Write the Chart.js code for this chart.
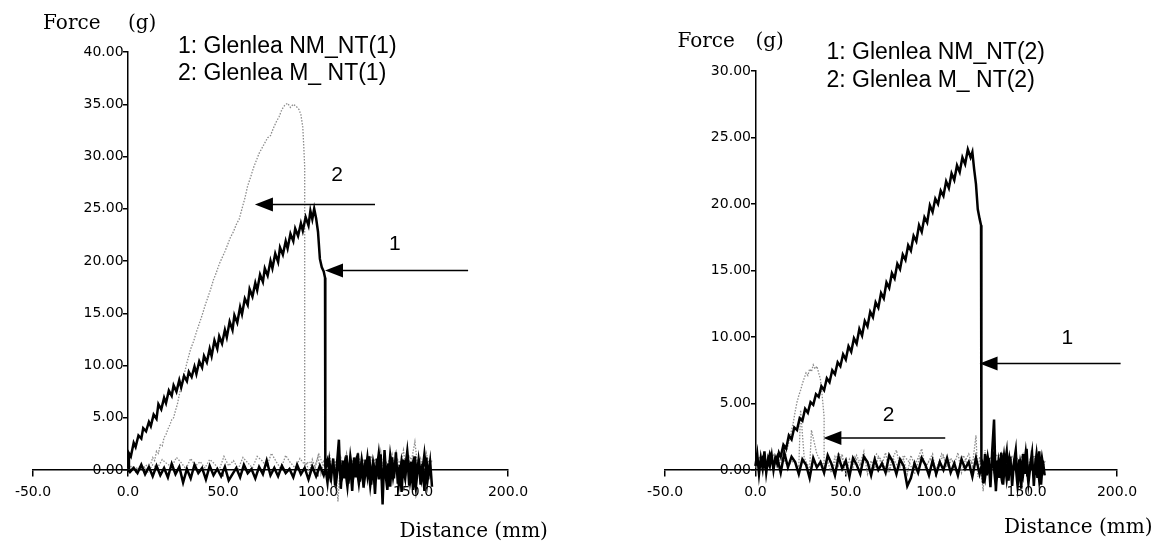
<!DOCTYPE html>
<html>
<head>
<meta charset="utf-8">
<script src="https://cdn.jsdelivr.net/npm/chart.js@4"></script>
<style>
  body { margin: 0; background: #fff; }
  canvas { position: absolute; top: 0; }
  #left { left: 0; }
  #right { left: 583px; }
</style>
</head>
<body>
<canvas id="left" width="583" height="549"></canvas>
<canvas id="right" width="583" height="549"></canvas>
<script>
// distance (mm), force (g) pairs, in the order the probe travelled
var leftNm = [
  [0,0.2],[0.5,1.6],[1.5,1.3],[3,2.6],[4,2.2],[5.5,3.3],[7,3.0],[8,4.0],[9.5,3.7],[11,4.6],[12,4.2],[13.5,5.3],[15,4.9],
  [16,6.3],[17.5,5.8],[19,6.9],[20,6.4],[21.5,7.6],[23,7.1],[24,8.1],[25.5,7.5],[27,8.6],[28,7.9],[29.5,9.0],[31,8.5],
  [32,9.4],[33.5,8.9],[35,9.9],[36,9.2],[37.5,10.4],[39,9.8],[40,10.9],[41.5,10.3],[43,11.6],[44,10.9],[45.5,12.4],
  [47,11.6],[48,12.8],[49.5,12.1],[51,13.4],[52,12.7],[53.5,14.2],[55,13.4],[56,14.8],[57.5,14.1],[59,15.6],[60,14.9],
  [61.5,16.4],[63,15.8],[64,17.3],[65.5,16.6],[67,17.9],[68,17.2],[69.5,18.7],[71,18.0],[72,19.3],[73.5,18.6],[75,20.0],
  [76,19.3],[77.5,20.7],[79,19.9],[80,21.3],[81.5,20.6],[83,21.9],[84,21.2],[85.5,22.6],[87,21.9],[88,23.1],[89.5,22.4],
  [91,23.6],[92,22.9],[93.5,24.2],[95,23.4],[96,24.8],[97,24.0],[98,25.0],[99,24.1],[100,22.8],[101,20.2],[102,19.4],
  [103,19.0],[103.7,18.4],[103.7,0.5],
  [104,0.3],[105,-1.2],[106,0.8],[107,-0.6],[108,1.1],[109,-1.5],[110,0.6],[111,2.9],[112,-1.8],[113,0.9],[114,-0.8],
  [115,1.4],[116,-1.3],[117,0.5],[118,-2.0],[119,1.2],[120,-0.7],[121,1.6],[122,-1.1],[123,0.4],[124,-1.7],[125,1.0],
  [126,-0.5],[127,1.3],[128,-1.4],[129,0.7],[130,-2.3],[131,1.1],[132,-0.9],[133,1.5],[134,-3.3],[135,1.9],[136,-1.0],
  [137,0.6],[138,-1.6],[139,1.2],[140,-0.8],[141,1.7],[142,-1.3],[143,0.5],[144,-2.1],[145,1.0],[146,-0.6],[147,1.4],
  [148,-1.5],[149,0.8],[150,-1.9],[151,1.3],[152,-0.7],[153,1.1],[154,-1.4],[155,0.6],[156,-2.0],[157,1.2],[158,-0.9],
  [159,0.9],[160,-1.6],
  [159,0.8],[157.5,-1.2],[156,1.5],[154.5,-0.8],[153,1.0],[151.5,-1.7],[150,0.6],[148.5,-1.1],[147,1.8],[145.5,-0.5],
  [144,0.9],[142.5,-1.4],[141,1.1],[139.5,-0.7],[138,1.4],[136.5,-1.9],[135,0.5],[133.5,-1.0],[132,1.6],[130.5,-0.6],
  [129,0.8],[127.5,-1.5],[126,1.2],[124.5,-0.9],[123,1.0],[121.5,-1.3],[120,0.7],[118.5,-0.8],[117,1.3],[115.5,-1.6],
  [114,0.6],[112.5,-0.9],[111,1.0],[109.5,-1.2],[108,0.5],[106.5,-0.7],[105,0.9],[103,-0.5],[101,0.4],[99,-0.6],[97,0.3],
  [95,-0.9],[93,0.2],[91,-0.4],[89,0.5],[87,-0.7],[85,0.1],[83,-0.3],[81,0.4],[79,-0.6],[77,0.2],[75,-0.5],[73,0.9],
  [71,-0.4],[69,0.3],[67,-0.8],[65,0.1],[63,-0.3],[61,0.5],[59,-0.7],[57,0.2],[55,-0.4],[53,-1.0],[51,0.3],[49,-0.6],
  [47,0.1],[45,-0.5],[43,0.4],[41,-0.9],[39,0.2],[37,-0.3],[35,0.5],[33,-0.8],[31,0.1],[29,-1.2],[27,0.3],[25,-0.4],
  [23,0.6],[21,-0.7],[19,0.2],[17,-0.5],[15,0.4],[13,-0.6],[11,0.3],[9,-0.4],[7,0.5],[5,-0.3],[3,0.2],[1,-0.2],[0,0]
];
var leftM = [
  [0,0.1],[2,0.4],[4,-0.2],[6,0.3],[8,0.1],[10,0.5],[12,0.6],[13,1.2],[14,0.9],[15,1.8],[16,1.6],[17,2.4],[18,2.3],
  [19,3.1],[20,3.4],[21,3.9],[22,4.3],[23,4.8],[24,5.0],[25,5.7],[26,6.3],[27,7.2],[28,8.0],[29,8.9],[30,9.5],
  [31.5,10.6],[33,11.6],[34.5,12.3],[36,13.2],[37.5,14.0],[39,14.8],[40.5,15.7],[42,16.5],[43.5,17.3],[45,18.2],
  [46.5,18.9],[48,19.7],[49.5,20.3],[51,20.9],[52.5,21.6],[54,22.3],[55.5,22.8],[57,23.5],[58.5,24.0],[60,25.0],
  [61.5,26.0],[63,27.2],[64.5,28.0],[66,28.9],[67.5,29.6],[69,30.3],[70.5,30.8],[72,31.3],[73.5,31.8],[75,32.0],
  [76.5,32.7],[78,33.3],[79.5,33.8],[81,34.5],[82.5,34.9],[84,35.1],[85.5,34.7],[87,35.0],[88.5,34.8],[90,34.5],
  [91,34.0],[92,32.8],[92.5,31.0],[93,29.0],[93,0.4],
  [94,0.6],[95.5,-0.3],[97,1.0],[98.5,0.2],[100,1.3],[101.5,-0.4],[103,0.8],[104.5,0.1],[106,1.5],[107.5,-0.2],[109,0.9],
  [110.5,-3.0],[112,1.2],[113.5,0.3],[115,1.6],[116.5,-0.5],[118,1.0],[119.5,0.2],[121,1.7],[122.5,-0.3],[124,0.9],
  [125.5,0.4],[127,1.4],[128.5,-0.6],[130,1.1],[131.5,0.1],[133,1.8],[134.5,-0.4],[136,0.7],[137.5,0.3],[139,1.5],
  [140.5,-0.2],[142,1.0],[143.5,0.5],[145,1.9],[146.5,-0.3],[148,0.8],[149.5,1.2],[151,2.7],[152.5,0.2],[154,1.1],
  [155.5,-0.4],[157,1.6],[158.5,0.5],[160,0.9],
  [158,0.3],[155.5,1.0],[153,-0.2],[150.5,0.7],[148,1.3],[145.5,0.1],[143,0.9],[140.5,-0.3],[138,1.1],[135.5,0.4],
  [133,0.8],[130.5,-0.2],[128,1.2],[125.5,0.3],[123,0.7],[120.5,1.4],[118,0.0],[115.5,0.8],[113,0.4],[110.5,1.2],
  [108,-0.1],[105.5,0.9],[103,0.3],[100.5,1.5],[98,0.2],[95.5,0.8],[93,0.5],[90.5,1.1],[88,0.2],[85.5,0.7],[83,1.4],
  [80.5,0.1],[78,0.8],[75.5,1.6],[73,0.3],[70.5,0.9],[68,1.3],[65.5,0.2],[63,0.7],[60.5,1.2],[58,0.1],[55.5,0.9],
  [53,0.4],[50.5,1.3],[48,0.0],[45.5,0.6],[43,1.0],[40.5,0.2],[38,0.8],[35.5,0.4],[33,1.1],[30.5,0.1],[28,0.7],
  [25.5,1.2],[23,0.3],[20.5,0.6],[18,1.0],[15.5,0.2],[13,0.5],[10.5,-0.2],[8,0.4],[5.5,0.1],[3,0.3],[0.5,0]
];
var rightNm = [
  [0,0.3],[1,1.2],[2,-0.3],[3,0.9],[4,0.1],[5,1.4],[6,-0.2],[7,0.8],[8,0.3],[9,1.1],[10,0.0],[11,0.9],[12,0.5],[13,1.3],
  [14,1.0],[15.5,1.9],[17,1.6],[18.5,2.6],[20,2.3],[21.5,3.2],[23,3.0],[24.5,3.9],[26,3.7],[27.5,4.6],[29,4.3],
  [30.5,5.1],[32,4.9],[33.5,5.7],[35,5.5],[36.5,6.3],[38,6.0],[39.5,6.9],[41,6.6],[42.5,7.5],[44,7.2],[45.5,8.1],
  [47,7.8],[48.5,8.7],[50,8.3],[51.5,9.3],[53,8.9],[54.5,9.9],[56,9.5],[57.5,10.6],[59,10.1],[60.5,11.2],[62,10.8],
  [63.5,11.9],[65,11.5],[66.5,12.6],[68,12.2],[69.5,13.3],[71,12.9],[72.5,14.1],[74,13.7],[75.5,14.8],[77,14.4],
  [78.5,15.5],[80,15.1],[81.5,16.2],[83,15.8],[84.5,16.9],[86,16.5],[87.5,17.6],[89,17.2],[90.5,18.4],[92,17.9],
  [93.5,19.0],[95,18.6],[96.5,19.9],[98,19.4],[99.5,20.4],[101,20.0],[102.5,21.0],[104,20.6],[105.5,21.7],[107,21.2],
  [108.5,22.3],[110,21.8],[111.5,22.9],[113,22.4],[114.5,23.5],[116,23.0],[117.5,24.1],[119,23.5],[120,23.9],[121,22.6],
  [122,21.5],[123,19.6],[124,18.9],[124.8,18.4],[125,0.6],
  [126,-1.0],[127,1.2],[128,-0.4],[129,0.9],[130,-1.3],[131,1.5],[132,3.8],[133,-1.6],[134,0.7],[135,-0.6],[136,1.3],
  [137,-1.1],[138,0.5],[139,1.4],[140,-0.8],[141,1.0],[142,-1.2],[143,0.6],[144,1.5],[145,-0.9],[146,0.8],[147,-1.4],
  [148,1.2],[149,-0.3],[150,1.6],[151,-1.0],[152,0.4],[153,1.3],[154,-1.2],[155,0.9],[156,-0.6],[157,1.4],[158,-1.1],
  [159,0.7],[160,-0.4],
  [158.5,0.9],[157,-0.8],[155.5,1.2],[154,-0.5],[152.5,0.8],[151,-1.0],[149.5,1.3],[148,-0.4],[146.5,0.6],[145,-1.2],
  [143.5,1.0],[142,-0.3],[140.5,0.9],[139,-0.7],[137.5,1.1],[136,-0.5],[134.5,0.7],[133,-1.3],[131.5,0.8],[130,-0.2],
  [128.5,1.0],[127,-0.6],[125.5,0.5],[124,-0.3],[122,0.9],[120,-0.5],[118,0.6],[116,0.1],[114,0.8],[112,-0.4],[110,0.5],
  [108,-0.2],[106,0.9],[104,0.0],[102,0.6],[100,-0.3],[98,0.7],[96,-0.4],[94,0.4],[92,0.9],[90,-0.2],[88,0.5],[86,-0.6],
  [84,-1.2],[82,0.3],[80,0.8],[78,-0.3],[76,0.6],[74,1.1],[72,-0.2],[70,0.5],[68,0.0],[66,0.8],[64,-0.4],[62,0.6],
  [60,1.0],[58,-0.3],[56,0.4],[54,0.9],[52,-0.5],[50,0.7],[48,0.1],[46,1.0],[44,-0.4],[42,0.5],[40,1.1],[38,-0.2],
  [36,0.6],[34,0.2],[32,0.9],[30,-0.6],[28,0.4],[26,0.8],[24,-0.3],[22,0.6],[20,1.0],[18,0.2],[16,1.3],[14,-0.2],
  [12,1.0],[10,0.4],[8,1.2],[6,-0.1],[4,0.9],[2,0.3],[0,0.6]
];
var rightM = [
  [0,0.4],[2,1.0],[4,0.2],[6,0.8],[8,0.5],[10,1.1],[12,0.3],[14,0.9],[16,0.6],[17,1.3],[18,1.8],[19,2.4],[20,3.0],
  [21,3.6],[22,4.4],[23,5.1],[24,5.6],[25,6.0],[26,6.5],[27,6.9],[28,7.3],[29,7.1],[30,7.6],[31,7.4],[32,7.9],[33,7.6],
  [34,7.8],[35,7.3],[36,6.8],[37,5.5],[38,4.0],[38,0.3],
  [40,0.6],[42,-0.2],[44,1.0],[46,0.3],[48,1.2],[50,-0.4],[52,0.8],[54,0.2],[56,1.1],[58,0.5],[60,1.4],[62,-0.3],
  [64,0.7],[66,0.1],[68,1.0],[70,0.4],[72,1.3],[74,-0.2],[76,0.9],[78,1.5],[80,0.2],[82,0.8],[84,-0.3],[86,1.1],
  [88,0.4],[90,0.9],[92,1.6],[94,0.1],[96,0.7],[98,1.2],[100,-0.4],[102,0.6],[104,1.1],[106,0.2],[108,0.9],[110,0.4],
  [112,1.3],[114,-0.2],[116,0.7],[118,1.2],[120,0.3],[122,2.6],[123,-0.5],[124,1.0],[126,-1.6],[127,1.5],[128,0.2],
  [130,1.0],[132,-0.3],[134,0.8],[136,1.3],[138,0.1],[140,0.9],[142,-0.4],[144,1.1],[146,0.5],[148,1.2],[150,-0.2],
  [152,0.8],[154,0.3],[156,1.0],[158,-0.3],[160,0.6],
  [157,0.4],[154,1.1],[151,-0.1],[148,0.7],[145,0.2],[142,1.0],[139,-0.3],[136,0.6],[133,1.2],[130,0.1],[127,0.8],
  [124,-0.2],[121,0.9],[118,0.3],[115,1.1],[112,-0.2],[109,0.7],[106,0.4],[103,1.2],[100,0.0],[97,0.8],[94,0.3],
  [91,1.0],[88,-0.3],[85,0.6],[82,1.1],[79,0.2],[76,0.9],[73,-0.2],[70,0.7],[67,1.2],[64,0.1],[61,0.8],[58,0.3],
  [55,1.0],[52,-0.1],[49,0.6],[46,1.3],[43,0.2],[40,0.8],[37,0.4],[34,1.2],[31,3.0],[30,0.1],[27,0.9],[25,4.5],[24,0.2],
  [21,0.7],[18,0.3],[15,0.9],[12,0.2],[9,0.8],[6,0.1],[3,0.6],[0,0.2]
];

var xTicks = [-50, 0, 50, 100, 150, 200];
var leftYTicks = [0, 5, 10, 15, 20, 25, 30, 35, 40];
var rightYTicks = [0, 5, 10, 15, 20, 25, 30];
var leftLegend = ["1: Glenlea NM_NT(1)", "2: Glenlea M_ NT(1)"];
var rightLegend = ["1: Glenlea NM_NT(2)", "2: Glenlea M_ NT(2)"];

var serif = "20px 'DejaVu Serif'";
var sans = "23px 'Liberation Sans'";
var num = "21px 'Liberation Sans'";

// free text and arrows, placed in axis units
var annotate = {
  id: "annotate",
  afterDraw: function (chart, args, opts) {
    var ctx = chart.ctx;
    var sx = chart.scales.x, sy = chart.scales.y;
    ctx.save();
    ctx.fillStyle = "#000";
    ctx.strokeStyle = "#000";
    opts.texts.forEach(function (t) {
      ctx.font = t.font;
      ctx.textAlign = t.align || "left";
      ctx.textBaseline = "middle";
      ctx.fillText(t.text, sx.getPixelForValue(t.at[0]), sy.getPixelForValue(t.at[1]));
    });
    opts.arrows.forEach(function (a) {
      var x1 = sx.getPixelForValue(a.tip[0]), y1 = sy.getPixelForValue(a.tip[1]);
      var x2 = sx.getPixelForValue(a.tail[0]);
      ctx.lineWidth = 1.5;
      ctx.beginPath();
      ctx.moveTo(x1 + 10, y1);
      ctx.lineTo(x2, y1);
      ctx.stroke();
      ctx.beginPath();
      ctx.moveTo(x1, y1);
      ctx.lineTo(x1 + 18, y1 - 7);
      ctx.lineTo(x1 + 18, y1 + 7);
      ctx.closePath();
      ctx.fill();
    });
    ctx.restore();
  }
};

function pts(list) {
  return list.map(function (p) { return { x: p[0], y: p[1] }; });
}

function makeChart(id, nm, m, yTicks, yMax, pad, texts, arrows) {
  new Chart(document.getElementById(id), {
    type: "scatter",
    data: {
      datasets: [
        { data: pts(nm), showLine: true, borderColor: "#000", borderWidth: 2.5, pointRadius: 0, clip: false },
        { data: pts(m), showLine: true, borderColor: "#8c8c8c", borderWidth: 1.3, borderDash: [1.5, 1.5], pointRadius: 0, clip: false }
      ]
    },
    options: {
      responsive: false,
      animation: false,
      layout: { padding: pad },
      plugins: { legend: { display: false }, tooltip: { enabled: false }, annotate: { texts: texts, arrows: arrows } },
      scales: {
        x: {
          type: "linear", min: -50, max: 200, position: { y: 0 },
          afterBuildTicks: function (s) { s.ticks = xTicks.map(function (v) { return { value: v }; }); },
          grid: { drawOnChartArea: false, drawTicks: true, tickLength: 6, color: "#000", lineWidth: 1.5 },
          border: { display: true, color: "#000", width: 1.5 },
          ticks: { color: "#000", font: { family: "DejaVu Sans", size: 14 }, padding: 8, callback: function (v) { return v.toFixed(1); } }
        },
        y: {
          type: "linear", min: 0, max: yMax, position: { x: 0 },
          afterBuildTicks: function (s) { s.ticks = yTicks.map(function (v) { return { value: v }; }); },
          grid: { drawOnChartArea: false, drawTicks: true, tickLength: 4, color: "#000", lineWidth: 1.5 },
          border: { display: true, color: "#000", width: 1.5 },
          ticks: { color: "#000", font: { family: "DejaVu Sans", size: 14 }, padding: 2, callback: function (v) { return v.toFixed(2) + " "; } }
        }
      }
    },
    plugins: [annotate]
  });
}

makeChart("left", leftNm, leftM, leftYTicks, 40, { left: 33, right: 75, top: 52, bottom: 79 }, [
  { text: "Force", at: [-44.7, 42.7], font: serif },
  { text: "(g)", at: [0, 42.7], font: serif },
  { text: leftLegend[0], at: [26.3, 40.5], font: sans },
  { text: leftLegend[1], at: [26.3, 37.9], font: sans },
  { text: "2", at: [110, 28.2], font: num, align: "center" },
  { text: "1", at: [140.5, 21.6], font: num, align: "center" },
  { text: "Distance (mm)", at: [221, -5.9], font: serif, align: "right" }
], [
  { tip: [66.8, 25.4], tail: [130, 25.4] },
  { tip: [103.7, 19.1], tail: [179, 19.1] }
]);

makeChart("right", rightNm, rightM, rightYTicks, 30, { left: 82, right: 49, top: 71, bottom: 79 }, [
  { text: "Force", at: [-43.1, 32.2], font: serif },
  { text: "(g)", at: [0, 32.2], font: serif },
  { text: rightLegend[0], at: [39.3, 31.35], font: sans },
  { text: rightLegend[1], at: [39.3, 29.3], font: sans },
  { text: "2", at: [73.6, 4.1], font: num, align: "center" },
  { text: "1", at: [172.6, 9.9], font: num, align: "center" },
  { text: "Distance (mm)", at: [219.6, -4.36], font: serif, align: "right" }
], [
  { tip: [37.6, 2.4], tail: [105, 2.4] },
  { tip: [124, 8.0], tail: [202, 8.0] }
]);
</script>
</body>
</html>
